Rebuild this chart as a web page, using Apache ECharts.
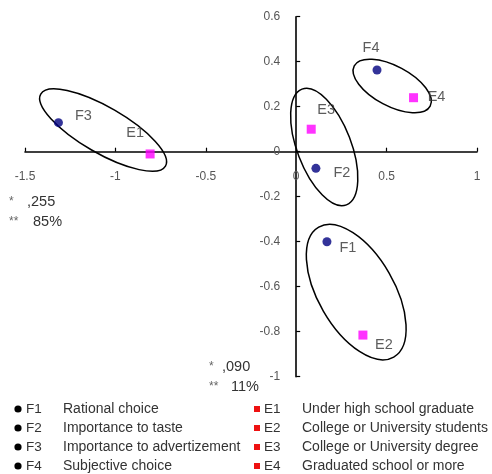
<!DOCTYPE html>
<html>
<head>
<meta charset="utf-8">
<script src="https://cdn.jsdelivr.net/npm/echarts@6/dist/echarts.min.js"></script>
<style>html,body{margin:0;padding:0;background:#fff}#c{width:492px;height:474px}</style>
</head>
<body>
<div id="c"></div>
<script>
// ---- data ----
const fCodes = ['F1', 'F2', 'F3', 'F4'];
const fX = [0.17, 0.109, -1.315, 0.447];
const fY = [-0.40, -0.074, 0.129, 0.363];
const eCodes = ['E1', 'E2', 'E3', 'E4'];
const eX = [-0.808, 0.369, 0.083, 0.649];
const eY = [-0.01, -0.815, 0.10, 0.24];
const fNames = ['Rational choice', 'Importance to taste', 'Importance to advertizement', 'Subjective choice'];
const eNames = ['Under high school graduate', 'College or University students', 'College or University degree', 'Graduated school or more'];
const xTicks = [-1.5, -1, -0.5, 0, 0.5, 1];
const yTicks = [-1, -0.8, -0.6, -0.4, -0.2, 0, 0.2, 0.4, 0.6];
// cluster ellipse centres (data units)
const clusterX = [-1.068, 0.531, 0.155, 0.332];
const clusterY = [0.096, 0.292, 0.021, -0.624];
const noteStars = ['*', '**'];
const dim1Values = [',255', '85%'];
const dim2Values = [',090', '11%'];

// ---- styles (kept apart from data) ----
const ellipseStyle = [
  {rx: 72, ry: 23, angle: 30},
  {rx: 43, ry: 20, angle: 28},
  {rx: 62, ry: 27, angle: 69},
  {rx: 75, ry: 38, angle: 60}
];
const fLabelOffset = [[21, 6], [26, 5], [25, -7], [-6, -22]];
const eLabelOffset = [[-15, -21], [21, 10], [15, -19], [23, -1]];
const FONT = 'Liberation Sans, Arial, sans-serif';
const GRID = {left: 25, right: 15, top: 16.7, bottom: 97.3};

const chart = echarts.init(document.getElementById('c'), null, {renderer: 'canvas'});

const fData = fX.map((x, i) => ({value: [x, fY[i]], name: fCodes[i], label: {offset: fLabelOffset[i]}}));
const eData = eX.map((x, i) => ({value: [x, eY[i]], name: eCodes[i], label: {offset: eLabelOffset[i]}}));

const pointLabel = {
  show: true, position: 'inside', align: 'center', verticalAlign: 'middle',
  formatter: p => p.name, color: '#333', fontSize: 14.5, fontFamily: FONT
};

// legend & note graphics
const g = [];
const rowY = [409, 428, 447, 466];
const txt = (x, y, text, size, color) => ({type: 'text', x: x, y: y,
  style: {text: text, fill: color || '#333', font: size + 'px ' + FONT, textVerticalAlign: 'middle'}});
fCodes.forEach((c, i) => {
  g.push({type: 'circle', shape: {cx: 18, cy: rowY[i], r: 3.6}, style: {fill: '#000'}});
  g.push(txt(26, rowY[i], c, 13.5));
  g.push(txt(63, rowY[i], fNames[i], 14));
});
eCodes.forEach((c, i) => {
  g.push({type: 'rect', shape: {x: 254, y: rowY[i] - 3, width: 6, height: 6}, style: {fill: '#ee1111'}});
  g.push(txt(264, rowY[i], c, 13.5));
  g.push(txt(302, rowY[i], eNames[i], 14));
});
noteStars.forEach((s, i) => {
  g.push(txt(9, 202 + i * 20, s, 12, '#666'));
  g.push(txt(i === 0 ? 27 : 33, 202 + i * 20, dim1Values[i], 14.5));
  g.push(txt(209, 367 + i * 20, s, 12, '#666'));
  g.push(txt(i === 0 ? 222 : 231, 367 + i * 20, dim2Values[i], 14.5));
});

const option = {
  animation: false,
  backgroundColor: '#fff',
  grid: Object.assign({containLabel: false, outerBoundsMode: 'none'}, GRID),
  xAxis: {
    type: 'value', min: xTicks[0], max: xTicks[xTicks.length - 1], interval: 0.5,
    axisLine: {onZero: false, lineStyle: {color: '#000', width: 1.6}},
    axisTick: {show: true, inside: true, length: 4, lineStyle: {color: '#000', width: 1.2}},
    axisLabel: {color: '#555', fontSize: 12, fontFamily: FONT, margin: 19, showMinLabel: true, showMaxLabel: true},
    splitLine: {show: false}
  },
  yAxis: {
    type: 'value', min: yTicks[0], max: yTicks[yTicks.length - 1], interval: 0.2,
    axisLine: {show: true, onZero: false, lineStyle: {color: '#000', width: 1.6}},
    axisTick: {show: true, inside: true, length: 4, lineStyle: {color: '#000', width: 1.2}},
    axisLabel: {color: '#555', fontSize: 12, fontFamily: FONT, margin: 16,
      formatter: v => (Math.round(v * 10) / 10).toString()},
    splitLine: {show: false}
  },
  graphic: g,
  series: [
    {
      type: 'custom', name: 'clusters', silent: true, z: 1,
      data: clusterX.map((x, i) => [x, clusterY[i]]),
      renderItem: (params, api) => {
        const c = api.coord([api.value(0), api.value(1)]);
        const s = ellipseStyle[params.dataIndex];
        return {
          type: 'ellipse', x: c[0], y: c[1], rotation: -s.angle * Math.PI / 180,
          shape: {cx: 0, cy: 0, rx: s.rx, ry: s.ry},
          style: {fill: 'none', stroke: '#000', lineWidth: 1.5}
        };
      }
    },
    {
      type: 'scatter', name: 'F', symbol: 'circle', symbolSize: 9, z: 3,
      itemStyle: {color: '#00007f'}, label: pointLabel, data: fData
    },
    {
      type: 'scatter', name: 'E', symbol: 'rect', symbolSize: 9, z: 3,
      itemStyle: {color: '#ff00ff'}, label: pointLabel, data: eData
    }
  ]
};
chart.setOption(option);
// move both axes (line, ticks and labels) to cross at the origin
const zero = chart.convertToPixel({gridIndex: 0}, [0, 0]);
const H = 474;
chart.setOption({
  xAxis: {offset: zero[1] - (H - GRID.bottom)},
  yAxis: {offset: GRID.left - zero[0]}
});
</script>
</body>
</html>
